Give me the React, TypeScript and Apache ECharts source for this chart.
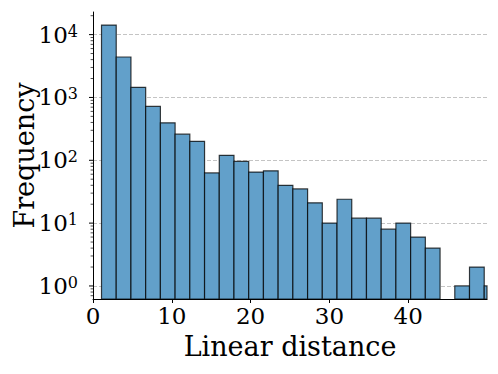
import React, { useEffect, useRef } from "react";
import * as echarts from "echarts";

// Histogram data
const BIN_START = 1.08;
const BIN_WIDTH = 1.868;
const counts = [
  14200, 4400, 1450, 720, 395, 260, 200, 63, 120, 96, 65, 68, 40, 35, 21, 10,
  24, 12, 12, 8, 10, 6, 4, 0, 1, 2, 1,
];
const xTicks = [0, 10, 20, 30, 40];
const yMajorTicks = [1, 10, 100, 1000, 10000];
const yMinorTicks = [
  0.7, 0.8, 0.9, 2, 3, 4, 5, 6, 7, 8, 9, 20, 30, 40, 50, 60, 70, 80, 90, 200,
  300, 400, 500, 600, 700, 800, 900, 2000, 3000, 4000, 5000, 6000, 7000, 8000,
  9000, 20000,
];
const X_MIN = 0;
const X_MAX = 50;
const Y_MIN = 0.62;
const Y_MAX = 22900;

const FONT = "'DejaVu Serif', serif";

export default function App() {
  const ref = useRef<HTMLDivElement>(null);
  useEffect(() => {
    if (!ref.current) return;
    const chart = echarts.init(ref.current, null, { renderer: "svg" });
    const barData = counts.map((c, i) => [
      BIN_START + i * BIN_WIDTH,
      BIN_START + (i + 1) * BIN_WIDTH,
      c,
    ]);
    const tickData = [
      ...yMajorTicks.map((v) => [0, v, 1]),
      ...yMinorTicks.map((v) => [0, v, 0]),
    ];
    chart.setOption({
      animation: false,
      grid: {
        left: 93,
        right: 11,
        top: 12,
        bottom: 75,
        containLabel: false,
        outerBoundsMode: "none",
      },
      xAxis: {
        type: "value",
        min: X_MIN,
        max: X_MAX,
        interval: 10,
        name: "Linear distance",
        nameLocation: "middle",
        nameGap: 34,
        nameMoveOverlap: false,
        nameTextStyle: { fontFamily: FONT, fontSize: 27, color: "#000" },
        axisLine: { show: true, lineStyle: { color: "#000", width: 1 } },
        axisTick: {
          show: true,
          inside: false,
          length: 4,
          customValues: xTicks,
          lineStyle: { color: "#000", width: 1 },
        },
        axisLabel: {
          customValues: xTicks,
          margin: 5,
          fontFamily: FONT,
          fontSize: 23,
          color: "#000",
        },
        splitLine: { show: false },
      },
      yAxis: {
        type: "log",
        logBase: 10,
        min: Y_MIN,
        max: Y_MAX,
        name: "Frequency",
        nameLocation: "middle",
        nameGap: 55,
        nameMoveOverlap: false,
        nameTextStyle: { fontFamily: FONT, fontSize: 27, color: "#000" },
        axisLine: { show: true, lineStyle: { color: "#000", width: 1 } },
        axisTick: { show: false },
        axisLabel: {
          margin: 15,
          fontFamily: FONT,
          color: "#000",
          formatter: (v: number) => {
            const k = Math.round(Math.log10(v));
            if (Math.abs(Math.log10(v) - k) > 1e-6) return "";
            return `{base|10}{sup|${k}}`;
          },
          rich: {
            base: { fontFamily: FONT, fontSize: 23, lineHeight: 23, color: "#000" },
            sup: {
              fontFamily: FONT,
              fontSize: 16,
              lineHeight: 12,
              verticalAlign: "top",
              color: "#000",
            },
          },
        },
        splitLine: {
          show: true,
          showMinLine: false,
          showMaxLine: false,
          lineStyle: { color: "#c4c4c4", width: 1, type: [4, 2] },
        },
      },
      series: [
        {
          type: "custom",
          data: barData,
          encode: { x: [0, 1], y: 2 },
          renderItem: (params: any, api: any) => {
            const v = api.value(2);
            if (!v) return null;
            const p0 = api.coord([api.value(0), v]);
            const p1 = api.coord([api.value(1), Y_MIN]);
            const cs = params.coordSys;
            const rect = echarts.graphic.clipRectByRect(
              { x: p0[0], y: p0[1], width: p1[0] - p0[0], height: p1[1] - p0[1] },
              { x: cs.x, y: cs.y - 2, width: cs.width, height: cs.height + 2 }
            );
            if (!rect) return null;
            return {
              type: "rect",
              shape: rect,
              style: {
                fill: "#62a0ca",
                stroke: "rgba(0,0,0,0.75)",
                lineWidth: 1.2,
              },
            };
          },
          z: 3,
        },
        {
          type: "custom",
          data: tickData,
          encode: { x: 0, y: 1 },
          renderItem: (params: any, api: any) => {
            const p = api.coord([0, api.value(1)]);
            const x = params.coordSys.x;
            const len = api.value(2) ? 4 : 2.4;
            return {
              type: "line",
              shape: { x1: x - len, y1: p[1], x2: x, y2: p[1] },
              style: { stroke: "#000", lineWidth: api.value(2) ? 1 : 0.7 },
            };
          },
          silent: true,
          z: 4,
        },
      ],
    });
    return () => chart.dispose();
  }, []);
  return <div ref={ref} style={{ width: 498, height: 374, margin: -8 }} />;
}
